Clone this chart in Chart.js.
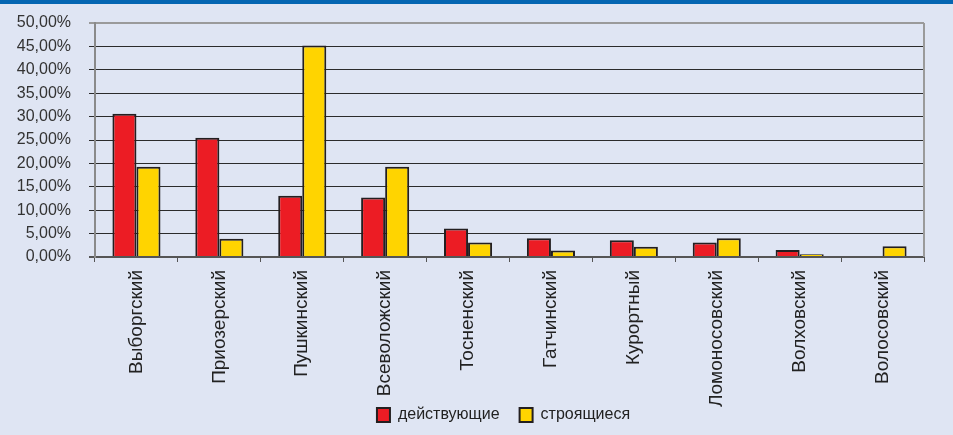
<!DOCTYPE html>
<html>
<head>
<meta charset="utf-8">
<script src="https://cdn.jsdelivr.net/npm/chart.js@4/dist/chart.umd.min.js"></script>
<style>
  html, body { margin: 0; padding: 0; background: #dfe5f3; }
  #wrap { position: relative; width: 953px; height: 435px; overflow: hidden; }
  #band { position: absolute; left: 0; top: 0; width: 953px; height: 4px; background: #0466b2; }
  canvas { position: absolute; left: 0; top: 0; }
</style>
</head>
<body>
<div id="wrap">
  <canvas id="c" width="953" height="435"></canvas>
  <div id="band"></div>
</div>
<script>
const categories = ["Выборгский", "Приозерский", "Пушкинский", "Всеволожский", "Тосненский",
  "Гатчинский", "Курортный", "Ломоносовский", "Волховский", "Волосовский"];
const seriesNames = ["действующие", "строящиеся"];
const operating = [30.6, 25.5, 13.1, 12.7, 6.1, 4.0, 3.6, 3.1, 1.5, 0];
const underConstruction = [19.3, 3.9, 45.2, 19.3, 3.1, 1.4, 2.2, 4.0, 0.6, 2.3];
const yTicks = [0, 5, 10, 15, 20, 25, 30, 35, 40, 45, 50];

const frame = {
  id: 'frame',
  afterLayout(chart) {
    // nudge the legend row to sit where the original's does
    chart.legend.left -= 12;
    // let the long rotated category names run past the axis box (no clipping)
    chart.scales.x.bottom = chart.height;
  },
  afterDatasetsDraw(chart) {
    const a = chart.chartArea, ctx = chart.ctx;
    ctx.save();
    ctx.strokeStyle = '#9a9a9a';
    ctx.lineWidth = 2;
    ctx.beginPath();
    ctx.moveTo(a.right, a.top);
    ctx.lineTo(a.right, a.bottom);
    ctx.stroke();
    ctx.restore();
  }
};

new Chart(document.getElementById('c'), {
  type: 'bar',
  data: {
    labels: categories,
    datasets: [
      { label: seriesNames[0], data: operating, backgroundColor: '#ec1c24', borderColor: '#231f20', borderWidth: 2 },
      { label: seriesNames[1], data: underConstruction, backgroundColor: '#ffd400', borderColor: '#231f20', borderWidth: 2 }
    ]
  },
  options: {
    responsive: false,
    animation: false,
    layout: { padding: { left: 0, right: 29, top: 23, bottom: 2 } },
    datasets: { bar: { categoryPercentage: 0.58, barPercentage: 1.0 } },
    plugins: {
      tooltip: { enabled: false },
      legend: {
        position: 'bottom',
        fullSize: false,
        labels: {
          boxWidth: 13, boxHeight: 14, padding: 20, color: '#222',
          font: { family: 'Liberation Sans, Arial, sans-serif', size: 16 }
        }
      }
    },
    scales: {
      x: {
        afterFit: s => { s.height = 130; },
        grid: { offset: true, drawOnChartArea: false, drawTicks: true, tickLength: 5, color: '#555', lineWidth: 1 },
        border: { color: '#555', width: 2 },
        ticks: {
          minRotation: 90, maxRotation: 90, padding: 8, color: '#222', autoSkip: false,
          font: { family: 'Liberation Sans, Arial, sans-serif', size: 19 }
        }
      },
      y: {
        min: 0, max: 50,
        afterFit: s => { s.width = 95; s.paddingTop = 0; s.paddingBottom = 0; },
        afterBuildTicks: s => { s.ticks = yTicks.map(v => ({ value: v })); },
        grid: {
          tickLength: 6,
          color: ctx => ctx.tick && ctx.tick.value === 50 ? '#9a9a9a' : (ctx.tick && ctx.tick.value === 0 ? '#555' : '#2b2b2b'),
          lineWidth: ctx => ctx.tick && (ctx.tick.value === 50 || ctx.tick.value === 0) ? 2 : 1
        },
        border: { color: '#8a8a8a', width: 2 },
        ticks: {
          padding: 18, color: '#333', autoSkip: false,
          font: { family: 'Liberation Sans, Arial, sans-serif', size: 16 },
          callback: v => v.toFixed(2).replace('.', ',') + '%'
        }
      }
    }
  },
  plugins: [frame]
});
</script>
</body>
</html>
